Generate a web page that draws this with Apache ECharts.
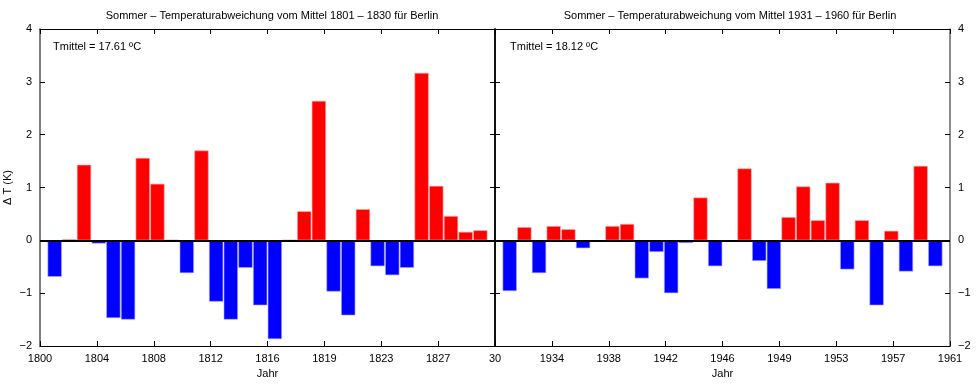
<!DOCTYPE html>
<html>
<head>
<meta charset="utf-8">
<script src="https://cdn.jsdelivr.net/npm/echarts@6/dist/echarts.min.js"></script>
<style>html,body{margin:0;padding:0;background:#fff}#c{width:980px;height:385px}</style>
</head>
<body>
<div id="c"></div>
<script>
// ---- data ----
const yearsLeft = [1801,1802,1803,1804,1805,1806,1807,1808,1809,1810,1811,1812,1813,1814,1815,1816,1817,1818,1819,1820,1821,1822,1823,1824,1825,1826,1827,1828,1829,1830];
const valuesLeft = [-0.69,0.02,1.43,-0.06,-1.47,-1.50,1.56,1.07,0.01,-0.62,1.70,-1.16,-1.50,-0.52,-1.23,-1.87,0.01,0.55,2.64,-0.97,-1.42,0.59,-0.49,-0.66,-0.52,3.17,1.03,0.46,0.16,0.19];
const yearsRight = [1931,1932,1933,1934,1935,1936,1937,1938,1939,1940,1941,1942,1943,1944,1945,1946,1947,1948,1949,1950,1951,1952,1953,1954,1955,1956,1957,1958,1959,1960];
const valuesRight = [-0.96,0.25,-0.62,0.27,0.21,-0.15,-0.02,0.27,0.31,-0.72,-0.22,-1.00,-0.05,0.81,-0.49,-0.01,1.36,-0.39,-0.92,0.44,1.02,0.38,1.09,-0.55,0.38,-1.23,0.18,-0.59,1.41,-0.49];
const tickLabelsLeft = ["1800","1804","1808","1812","1816","1819","1823","1827",""];
const tickLabelsRight = ["30","1934","1938","1942","1946","1949","1953","1957","1961"];
const baseLeft = 1800, baseRight = 1930;
const titleLeft = "Sommer \u2013 Temperaturabweichung vom Mittel 1801 \u2013 1830 f\u00fcr Berlin";
const titleRight = "Sommer \u2013 Temperaturabweichung vom Mittel 1931 \u2013 1960 f\u00fcr Berlin";
const noteLeft = "Tmittel = 17.61 \u00baC";
const noteRight = "Tmittel = 18.12 \u00baC";

const FONT = "Liberation Sans, Arial, sans-serif";
const STEP = 31/8;
const chart = echarts.init(document.getElementById('c'), null, {renderer:'canvas'});

function xAx(gi, labels, pos, showLabels, name) {
  return {
    type:'value', gridIndex:gi, min:0, max:31, interval:STEP, position:pos,
    axisLine:{show:true, onZero:false, lineStyle:{color:'#000', width:1.2}},
    axisTick:{show:true, inside:true, length:5, lineStyle:{color:'#000'}},
    axisLabel:{show:showLabels, margin:7, fontSize:11, color:'#000', fontFamily:FONT,
      formatter:(v)=>labels[Math.round(v/STEP)] || ''},
    splitLine:{show:false},
    name: name || '', nameLocation:'middle', nameGap:21,
    nameTextStyle:{fontSize:11, color:'#000', fontFamily:FONT}
  };
}
function yAx(gi, pos, showLabels, lineColor, name) {
  return {
    type:'value', gridIndex:gi, min:-2, max:4, interval:1, position:pos,
    axisLine:{show:true, onZero:false, lineStyle:{color:lineColor, width:1.5}},
    axisTick:{show:true, inside:true, length:5, lineStyle:{color:'#000'}},
    axisLabel:{show:showLabels, margin:8, fontSize:11, color:'#000', fontFamily:FONT,
      formatter:(v)=>String(v).replace('-', '\u2212')},
    splitLine:{show:false},
    name: name || '', nameLocation:'middle', nameGap:27, nameRotate:90,
    nameTextStyle:{fontSize:11, color:'#000', fontFamily:FONT}
  };
}
function barSeries(xi, yi, years, vals, base) {
  return {
    type:'bar', xAxisIndex:xi, yAxisIndex:yi, barWidth:14.2,
    data: years.map((y,i)=>({
      value:[y-base, vals[i]],
      itemStyle:{
        color: vals[i] >= 0 ? '#ff0000' : '#0000ff',
        borderColor: vals[i] >= 0 ? 'rgba(255,170,170,1)' : 'rgba(170,170,255,1)',
        borderWidth:0.6
      }
    })),
    markLine:{silent:true, symbol:'none', label:{show:false},
      lineStyle:{color:'#000', width:2, type:'solid'}, data:[{yAxis:0}]},
    animation:false
  };
}

chart.setOption({
  animation:false,
  backgroundColor:'#fff',
  grid:[
    {left:40, top:29, width:455, height:317},
    {left:495, top:29, width:455, height:317}
  ],
  title:[
    {text:titleLeft, left:267, top:5, textAlign:'center',
      textStyle:{fontSize:11, fontWeight:'normal', color:'#000', fontFamily:FONT}},
    {text:titleRight, left:725, top:5, textAlign:'center',
      textStyle:{fontSize:11, fontWeight:'normal', color:'#000', fontFamily:FONT}}
  ],
  graphic:[
    {type:'text', left:53, top:41, style:{text:noteLeft, fontSize:11, fill:'#000', font:'11px '+FONT}},
    {type:'text', left:510, top:41, style:{text:noteRight, fontSize:11, fill:'#000', font:'11px '+FONT}}
  ],
  xAxis:[
    xAx(0, tickLabelsLeft, 'bottom', true, 'Jahr'),
    xAx(0, tickLabelsLeft, 'top', false),
    xAx(1, tickLabelsRight, 'bottom', true, 'Jahr'),
    xAx(1, tickLabelsRight, 'top', false)
  ],
  yAxis:[
    yAx(0, 'left', true, '#555', '\u0394 T (K)'),
    yAx(0, 'right', false, '#000'),
    yAx(1, 'left', false, '#000'),
    yAx(1, 'right', true, '#666')
  ],
  series:[
    barSeries(0, 0, yearsLeft, valuesLeft, baseLeft),
    barSeries(2, 3, yearsRight, valuesRight, baseRight)
  ]
});
</script>
</body>
</html>
